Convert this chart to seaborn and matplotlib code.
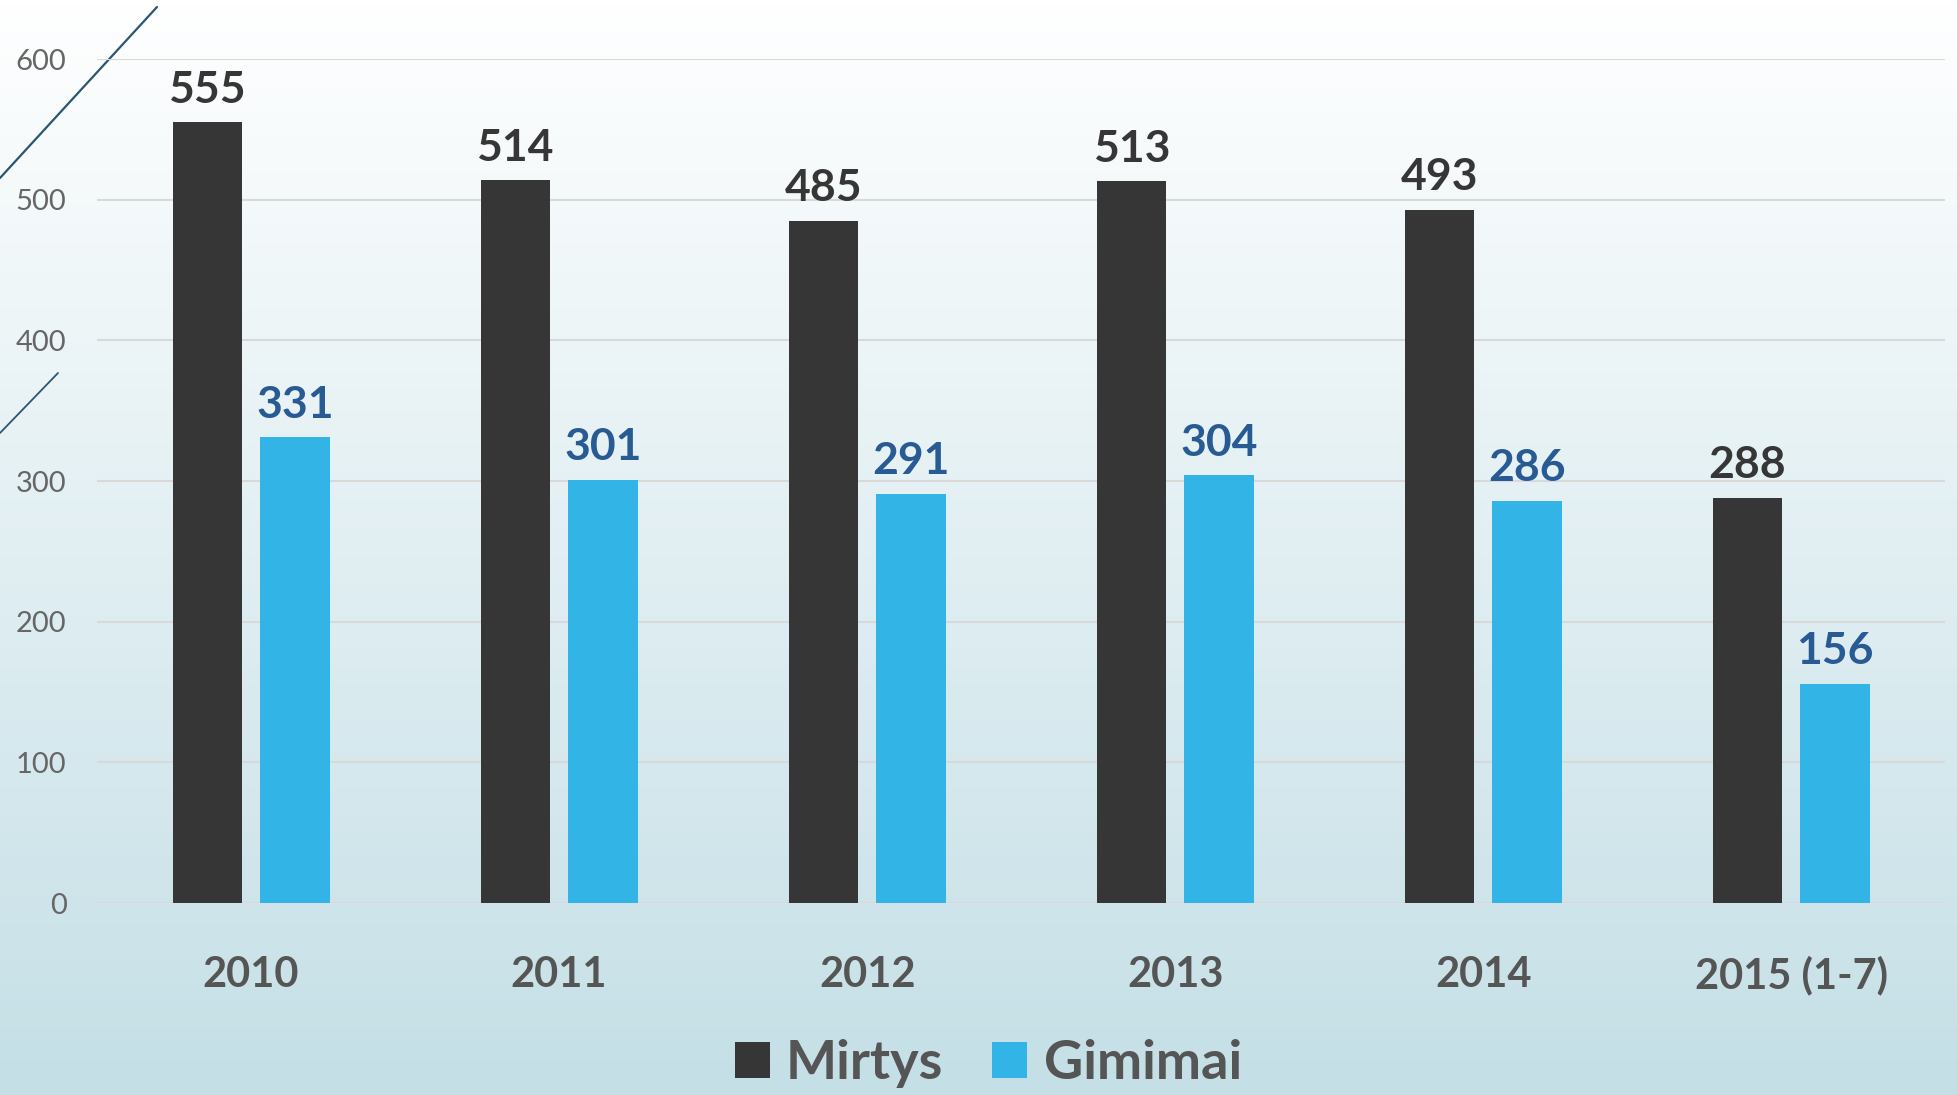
import numpy as np
import pandas as pd
import matplotlib.pyplot as plt
import seaborn as sns
from matplotlib.colors import LinearSegmentedColormap

years = ['2010', '2011', '2012', '2013', '2014', '2015 (1-7)']
mirtys = [555, 514, 485, 513, 493, 288]
gimimai = [331, 301, 291, 304, 286, 156]
series_names = ['Mirtys', 'Gimimai']

COLOR_DARK = '#363636'
COLOR_BLUE = '#32b5e6'
LABEL_BLUE = '#285a94'

df = pd.DataFrame({
    'year': years * 2,
    'value': mirtys + gimimai,
    'series': [series_names[0]] * len(years) + [series_names[1]] * len(years),
})

sns.set_theme(style="white")
plt.rcParams['font.family'] = ['Lato', 'DejaVu Sans']

fig = plt.figure(figsize=(19.57, 10.95), dpi=100)

# background gradient
bg = fig.add_axes([0, 0, 1, 1], zorder=-10)
grad = np.linspace(0, 1, 256).reshape(-1, 1)
cmap = LinearSegmentedColormap.from_list('bg', ['#ffffff', '#c4dfe6'])
bg.imshow(grad, aspect='auto', cmap=cmap, extent=[0, 1, 0, 1], origin='upper')
bg.set_xlim(0, 1)
bg.set_ylim(0, 1)
bg.axis('off')
# decorative diagonal strokes
bg.plot([0, 157 / 1957], [1 - 178 / 1095, 1 - 7 / 1095], color='#2b5673', lw=1.6)
bg.plot([0, 58 / 1957], [1 - 433 / 1095, 1 - 373 / 1095], color='#2b5673', lw=1.3)

ax = fig.add_axes([0.0496, 0.1753, 0.9444, 0.7707])
ax.patch.set_alpha(0)
sns.barplot(data=df, x='year', y='value', hue='series', order=years,
            hue_order=series_names, palette=[COLOR_DARK, COLOR_BLUE],
            width=0.57, gap=0.21, saturation=1, linewidth=0, ax=ax, legend=True)

ax.set_ylim(0, 600)
ax.set_xlim(-0.5, len(years) - 0.5)
ax.set_yticks(range(0, 601, 100))
ax.yaxis.grid(True, color='#d9d9d9', lw=1.5)
ax.set_axisbelow(True)
for s in ax.spines.values():
    s.set_visible(False)
ax.set_xlabel('')
ax.set_ylabel('')
ax.tick_params(axis='y', labelsize=21, labelcolor='#666666', pad=22, length=0)
ax.tick_params(axis='x', labelsize=30, labelcolor='#555555', pad=38, length=0)
for t in ax.get_xticklabels():
    t.set_fontweight('bold')

label_colors = [COLOR_DARK, LABEL_BLUE]
for cont, col in zip(ax.containers, label_colors):
    ax.bar_label(cont, padding=9, fontsize=32, fontweight='bold', color=col,
                 clip_on=False)

leg = ax.legend(loc='center', bbox_to_anchor=(0.505, 0.029),
                bbox_transform=fig.transFigure, ncol=2, frameon=False,
                fontsize=39, handlelength=0.65, handleheight=0.65,
                handletextpad=0.3, columnspacing=0.9)
for txt in leg.get_texts():
    txt.set_color('#555555')
    txt.set_fontweight('bold')

fig.savefig('out.png', dpi=100)
